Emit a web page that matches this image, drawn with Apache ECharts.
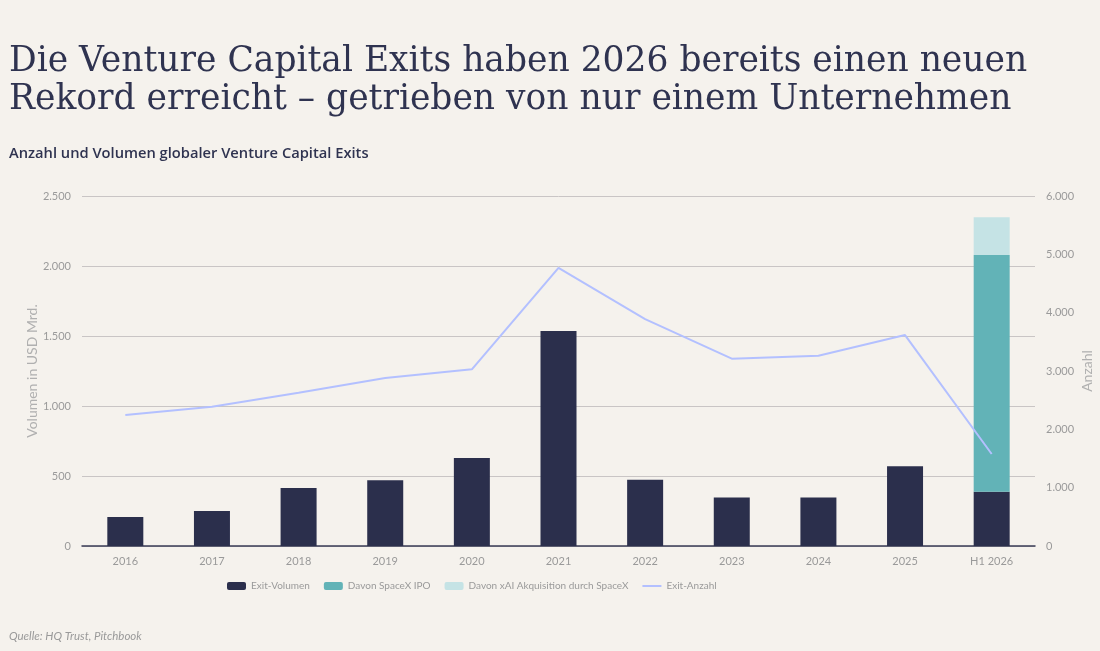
<!DOCTYPE html>
<html>
<head>
<meta charset="utf-8">
<script src="https://cdn.jsdelivr.net/npm/echarts@6/dist/echarts.min.js"></script>
<style>
  html, body { margin: 0; padding: 0; background: #f5f2ed; }
  #chart { width: 1100px; height: 651px; }
</style>
</head>
<body>
<div id="chart"></div>
<script>
// Kategorien und Werte
var jahre = ["2016", "2017", "2018", "2019", "2020", "2021", "2022", "2023", "2024", "2025", "H1 2026"];
var exitVolumen = [207, 250, 414, 469, 629, 1536, 474, 347, 347, 569, 388];
var spaceXIpo = ["-", "-", "-", "-", "-", "-", "-", "-", "-", "-", 1691];
var xAiAkquisition = ["-", "-", "-", "-", "-", "-", "-", "-", "-", "-", 269];
var exitAnzahl = [2247, 2389, 2629, 2880, 3029, 4768, 3890, 3211, 3262, 3616, 1577];

var sans = "Lato";
var grau = "#9a9a9a";

//Tausenderpunkt
function fmt(v) {
    return String(v).replace(/\B(?=(\d{3})+(?!\d))/g, ".");
}

var chart = echarts.init(document.getElementById("chart"));

chart.setOption({
    backgroundColor: "#f5f2ed",
    animation: false,
    title: [{
        text: "Die Venture Capital Exits haben 2026 bereits einen neuen\nRekord erreicht – getrieben von nur einem Unternehmen",
        left: 4,
        top: 38,
        textStyle: {
            fontFamily: "DejaVu Serif",
            fontWeight: "normal",
            fontSize: 34.5,
            lineHeight: 38,
            color: "#2f3350"
        }
    }, {
        text: "Anzahl und Volumen globaler Venture Capital Exits",
        left: 4,
        top: 141,
        textStyle: {
            fontFamily: "Open Sans",
            fontWeight: 600,
            fontSize: 14.7,
            color: "#2f3350"
        }
    }, {
        text: "Quelle: HQ Trust, Pitchbook",
        left: 4,
        top: 625,
        textStyle: {
            fontFamily: sans,
            fontStyle: "italic",
            fontWeight: "normal",
            fontSize: 11.5,
            color: grau
        }
    }],
    legend: {
        left: 222,
        top: 576,
        itemWidth: 19,
        itemHeight: 8,
        itemGap: 14,
        textStyle: { fontFamily: sans, fontSize: 10, color: grau },
        data: ["Exit-Volumen", "Davon SpaceX IPO", "Davon xAI Akquisition durch SpaceX",
            { name: "Exit-Anzahl", icon: "path://M0,0 L19,0 L19,2 L0,2 Z" }]
    },
    grid: { left: 82, right: 65, top: 196, bottom: 105, outerBoundsMode: "none" },
    xAxis: {
        type: "category",
        data: jahre,
        axisTick: { show: false },
        axisLine: { lineStyle: { color: "#3a3d55", width: 1.5 } },
        axisLabel: { fontFamily: sans, fontSize: 11, color: grau, margin: 10 }
    },
    yAxis: [{
        type: "value",
        min: 0,
        max: 2500,
        interval: 500,
        name: "Volumen in USD Mrd.",
        nameLocation: "middle",
        nameGap: 43,
        nameMoveOverlap: false,
        nameTextStyle: { fontFamily: sans, fontSize: 14, color: "#b0b0b0" },
        axisLabel: { fontFamily: sans, fontSize: 11, color: grau, margin: 11, formatter: fmt },
        splitLine: { lineStyle: { color: "#c9c5c5", width: 1 } }
    }, {
        type: "value",
        min: 0,
        max: 6000,
        interval: 1000,
        name: "Anzahl",
        nameLocation: "middle",
        nameGap: 45,
        nameMoveOverlap: false,
        nameTextStyle: { fontFamily: sans, fontSize: 14, color: "#b0b0b0" },
        axisLabel: { fontFamily: sans, fontSize: 11, color: grau, margin: 11, formatter: fmt },
        splitLine: { show: false }
    }],
    series: [{
        name: "Exit-Volumen",
        type: "bar",
        stack: "vol",
        barWidth: 36,
        data: exitVolumen,
        itemStyle: { color: "#2b2f4c" }
    }, {
        name: "Davon SpaceX IPO",
        type: "bar",
        stack: "vol",
        barWidth: 36,
        data: spaceXIpo,
        itemStyle: { color: "#62b3b7" }
    }, {
        name: "Davon xAI Akquisition durch SpaceX",
        type: "bar",
        stack: "vol",
        barWidth: 36,
        data: xAiAkquisition,
        itemStyle: { color: "#c5e3e5" }
    }, {
        name: "Exit-Anzahl",
        type: "line",
        yAxisIndex: 1,
        data: exitAnzahl,
        symbol: "none",
        lineStyle: { color: "#b3c0ff", width: 2 },
        itemStyle: { color: "#b3c0ff" }
    }]
});
</script>
</body>
</html>
